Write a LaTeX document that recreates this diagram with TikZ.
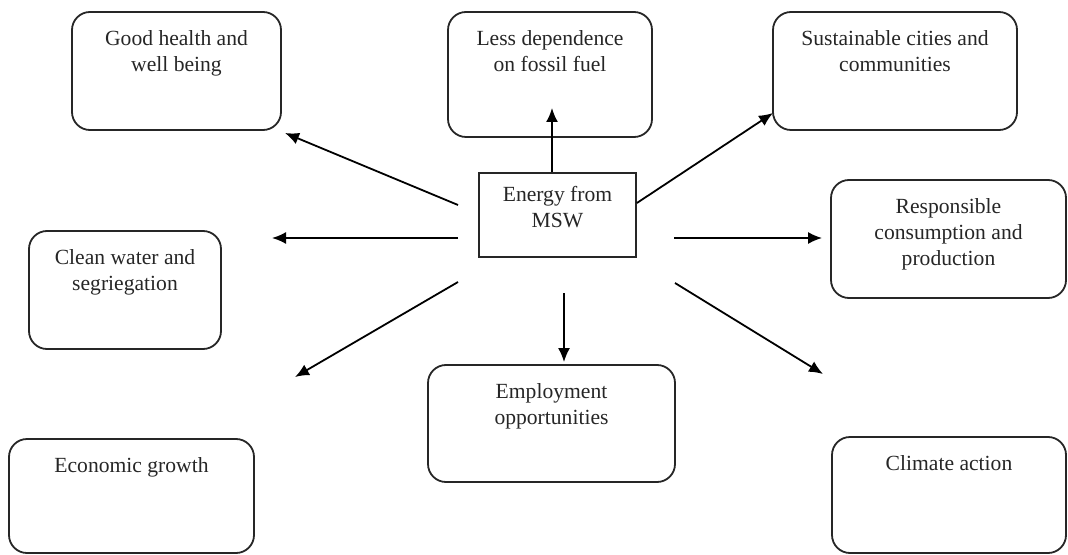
\documentclass[tikz,border=0pt]{standalone}
\usepackage{fontspec}
\setmainfont{Liberation Serif}
\usetikzlibrary{arrows.meta,positioning}

\begin{document}
\begin{tikzpicture}[x=0.5pt,y=-0.5pt,goal/.style={draw=black!85,rounded corners=9pt,line width=0.9pt,inner sep=0pt},txt/.style={align=center,inner sep=0pt,text=black!85,font=\fontsize{10.8}{13}\selectfont},lbl/.style={label={[txt,anchor=north,yshift=-9.5pt]north:#1}},arr/.style={-{Latex[length=7pt,width=6pt]},line width=0.9pt}]
\useasboundingbox (0,0) rectangle (1068,555);
\node[goal,minimum width=104.5pt,minimum height=59pt,lbl={Good health and\\well being}](health) at (176.5,71){};
\node[goal,minimum width=102pt,minimum height=62.5pt,lbl={Less dependence\\on fossil fuel}](fossil) at (550,74.5){};
\node[goal,minimum width=122pt,minimum height=59pt,lbl={Sustainable cities and\\communities}](cities) at (895,71){};
\node[goal,rounded corners=0pt,minimum width=78.5pt,minimum height=42pt,label={[txt,anchor=north,yshift=-7pt]north:Energy from\\MSW}](msw) at (557.5,215){};
\node[goal,minimum width=117.5pt,minimum height=59pt,lbl={Responsible\\consumption and\\production}](consum) at (948.5,239){};
\node[goal,minimum width=96pt,minimum height=59pt,lbl={Clean water and\\segriegation}](water) at (125,290){};
\node[goal,minimum width=123.5pt,minimum height=58.5pt,lbl={Employment\\opportunities}](employ) at (551.5,423.5){};
\node[goal,minimum width=122.5pt,minimum height=57pt,lbl={Economic growth}](growth) at (131.5,496){};
\node[goal,minimum width=117pt,minimum height=58pt,lbl={Climate action}](climate) at (949,495){};
\coordinate (tipfossil) at (552,108);
\coordinate (fromhealth) at (458,205);\coordinate (tiphealth) at (285,133);
\coordinate (tipcities) at (773,113);
\coordinate (fromwater) at (458,238);\coordinate (tipwater) at (272,238);
\coordinate (fromconsum) at (674,238);
\coordinate (fromgrowth) at (458,282);\coordinate (tipgrowth) at (295,377);
\coordinate (fromemploy) at (564,293);
\coordinate (fromclimate) at (675,283);\coordinate (tipclimate) at (823,374);
\draw[arr]([xshift=-2.75pt]msw.north)--(tipfossil);\draw[arr](fromhealth)--(tiphealth);\draw[arr]([yshift=6pt]msw.east)--(tipcities);\draw[arr](fromwater)--(tipwater);\draw[arr,shorten >=4pt](fromconsum)--(fromconsum-|consum.west);\draw[arr](fromgrowth)--(tipgrowth);\draw[arr,shorten >=1pt](fromemploy)--(fromemploy|-employ.north);\draw[arr](fromclimate)--(tipclimate);
\end{tikzpicture}
\end{document}
